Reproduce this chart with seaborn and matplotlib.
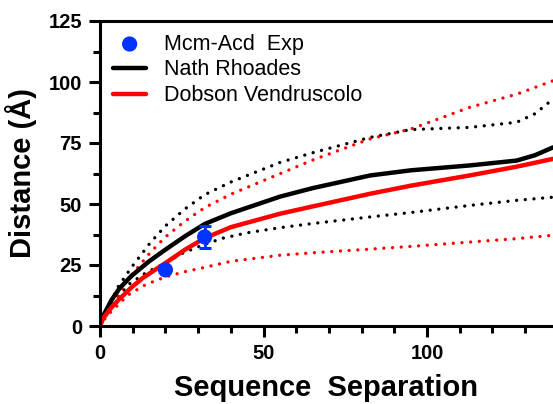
import matplotlib
matplotlib.use("Agg")
import matplotlib.pyplot as plt
import pandas as pd
import seaborn as sns

# experimental points
exp_sep = [20, 32]
exp_dist = [23.0, 36.5]
exp_err = [0, 4.6]

# model curves
nath_x = [0, 1, 3.5, 6, 9.6, 15, 20, 26, 32, 40, 55, 65, 82.6, 95, 113, 127.4, 133, 138.5]
nath_y = [0, 4.2, 10.6, 15.5, 20.5, 26.5, 31.3, 36.8, 41.8, 46.2, 53, 56.5, 61.7, 63.8, 65.8, 67.8, 70, 73.2]
dobson_x = [0, 1, 3, 5.5, 9.6, 13, 17.7, 20, 26, 32, 40, 55, 65, 82.6, 95, 113, 127.4, 138.5]
dobson_y = [0, 3.2, 6.8, 10.5, 15.8, 19.6, 23.8, 25.8, 31.3, 36, 40.5, 46, 49, 54.2, 57.5, 61.7, 65.3, 68.5]
nath_hi_x = [0, 2, 5.5, 9.6, 15.3, 20, 26, 32, 40, 55, 65, 82.6, 95, 113, 127.4, 133, 138.5]
nath_hi_y = [0, 6, 16, 24, 34, 41, 48, 53.8, 59, 67, 71, 77.3, 80.5, 81.4, 83.5, 87, 93]
dobson_hi_x = [0, 2, 5.5, 9.6, 15.3, 20, 26, 32, 40, 55, 65, 82.6, 95, 113, 127.4, 138.5]
dobson_hi_y = [0, 5, 13, 20.8, 30, 36.5, 43, 48.5, 54, 62.4, 68, 76.7, 80.7, 89.6, 95, 100.5]
nath_lo_x = [0, 2, 5, 8.7, 14, 20, 25.5, 32, 37.6, 45, 55, 65, 82.6, 95, 113, 127.4, 138.5]
nath_lo_y = [0, 5, 11, 17, 21.8, 25.8, 30, 33.5, 36, 38.2, 40.3, 42, 44.7, 46.5, 49.4, 51.5, 52.8]
dobson_lo_x = [0, 2, 5, 8.7, 14, 20, 26, 30.6, 40, 55, 65, 82.6, 95, 113, 127.4, 138.5]
dobson_lo_y = [0, 4, 8, 12.8, 17, 20.1, 22.3, 23.6, 26.5, 29, 30, 31.5, 32.6, 34.4, 35.8, 37.2]

sns.set_style("ticks")
plt.rcParams["font.family"] = ["Liberation Sans", "DejaVu Sans"]
plt.rcParams["axes.edgecolor"] = "black"
plt.rcParams["text.color"] = "black"
plt.rcParams["axes.labelcolor"] = "black"
plt.rcParams["xtick.color"] = "black"
plt.rcParams["ytick.color"] = "black"

fig = plt.figure(figsize=(5.53, 4.04), dpi=100)
ax = fig.add_axes([100 / 553, 1 - 326 / 404, 1 - 100 / 553, (326 - 21) / 404])

dots = (0, (0.01, 2.6))
for xs, ys, c in [(nath_hi_x, nath_hi_y, "black"), (nath_lo_x, nath_lo_y, "black"),
                  (dobson_hi_x, dobson_hi_y, "red"), (dobson_lo_x, dobson_lo_y, "red")]:
    sns.lineplot(x=xs, y=ys, color=c, lw=2.4, ax=ax)
    ax.lines[-1].set_linestyle(dots)
    ax.lines[-1].set_dash_capstyle("round")
sns.lineplot(x=nath_x, y=nath_y, color="black", lw=3.2, ax=ax, label="Nath Rhoades")
sns.lineplot(x=dobson_x, y=dobson_y, color="red", lw=3.2, ax=ax, label="Dobson Vendruscolo")

ax.errorbar(exp_sep[1:], exp_dist[1:], yerr=exp_err[1:], fmt="none", ecolor="#0033ff",
            elinewidth=2.2, capsize=4.5, capthick=2.2, zorder=4)
sns.scatterplot(x=exp_sep, y=exp_dist, color="#0033ff", s=120, edgecolor="none", zorder=5,
                ax=ax, label="Mcm-Acd  Exp")

ax.set_xlim(0, 138.5)
ax.set_ylim(0, 125)
ax.set_xticks([0, 50, 100])
ax.set_yticks([0, 25, 50, 75, 100, 125])
ax.set_xticks(range(0, 140, 10), minor=True)
ax.set_yticks([12.5, 37.5, 62.5, 87.5, 112.5], minor=True)
ax.tick_params(which="major", length=8, width=2.2, labelsize=14.5, pad=5)
ax.tick_params(which="minor", length=5, width=2.2)
for t in ax.get_xticklabels() + ax.get_yticklabels():
    t.set_fontweight("bold")
for s in ["left", "bottom", "top"]:
    ax.spines[s].set_linewidth(2.2)
ax.spines["right"].set_visible(False)

ax.set_xlabel("Sequence  Separation", fontsize=21, fontweight="bold", labelpad=8)
ax.set_ylabel("Distance (Å)", fontsize=21, fontweight="bold", labelpad=8)

h, lab = ax.get_legend_handles_labels()
order = [lab.index("Mcm-Acd  Exp"), lab.index("Nath Rhoades"), lab.index("Dobson Vendruscolo")]
ax.legend([h[i] for i in order], [lab[i] for i in order], loc="upper left",
          bbox_to_anchor=(-0.013, 1.022), frameon=False, fontsize=15.5, handlelength=1.5,
          labelspacing=0.22, handletextpad=0.85)

fig.savefig("out.png", dpi=100)
